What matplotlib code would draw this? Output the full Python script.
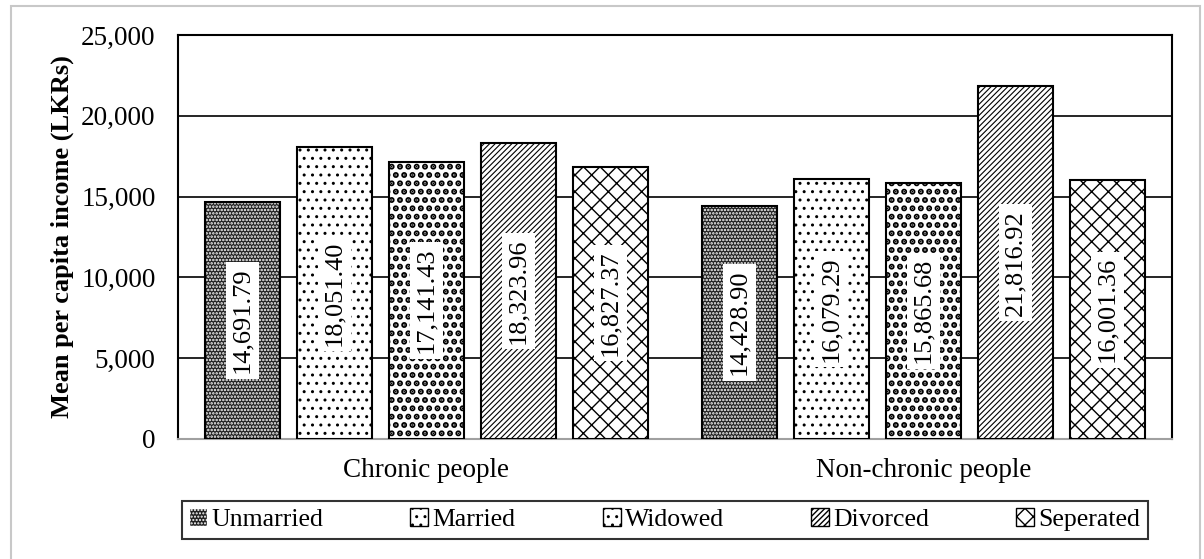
import numpy as np
import matplotlib.pyplot as plt
from matplotlib.patches import Rectangle, Patch
from matplotlib.ticker import FuncFormatter

plt.rcParams['font.family'] = ['Liberation Serif', 'DejaVu Serif']

groups = ['Chronic people', 'Non-chronic people']
statuses = ['Unmarried', 'Married', 'Widowed', 'Divorced', 'Seperated']
chronic = [14691.79, 18051.40, 17141.43, 18323.96, 16827.37]
non_chronic = [14428.90, 16079.29, 15865.68, 21816.92, 16001.36]

# fill style per status: face colour, hatch colour, hatch, hatch line width
faces = ['#202020', 'white', 'white', 'white', 'white']
hcolors = ['white', 'black', 'black', 'black', 'black']
hatches = ['.....', '..', '..', '//////', 'xx']
hwidths = [1.2, 1.0, 3.0, 0.8, 1.0]

values = np.array([chronic, non_chronic])

fig = plt.figure(figsize=(12.04, 5.59), dpi=100)
ax = fig.add_axes([0.1478, 0.2147, 0.9734 - 0.1478, 0.9374 - 0.2147])

# light grey frame round the whole figure
fig.patches.append(Rectangle((0.009, -0.05), 0.988, 1.04, transform=fig.transFigure,
                             fill=False, edgecolor='#c8c8c8', linewidth=1.5))

x = np.arange(len(groups))
width = 0.151
step = 0.185

handles = []
for i, s in enumerate(statuses):
    xs = x + (i - 2) * step
    with plt.rc_context({'hatch.linewidth': hwidths[i]}):
        ax.bar(xs, values[:, i], width, color=faces[i], edgecolor=hcolors[i],
               hatch=hatches[i], linewidth=0, zorder=3)
        handles.append(Patch(facecolor=faces[i], edgecolor=hcolors[i],
                             hatch=hatches[i], linewidth=1))
    ax.bar(xs, values[:, i], width, fill=False, edgecolor='black',
           linewidth=1.5, zorder=4)
    for xi, v in zip(xs, values[:, i]):
        ax.text(xi, v / 2, f'{v:,.2f}', rotation=90, ha='center', va='center',
                fontsize=19, zorder=5,
                bbox=dict(facecolor='white', edgecolor='none', pad=4))

ax.set_xlim(-0.5, 1.5)
ax.set_ylim(0, 25000)
ax.set_yticks(np.arange(0, 25001, 5000))
ax.yaxis.set_major_formatter(FuncFormatter(lambda v, p: f'{v:,.0f}'))
ax.set_xticks(x)
ax.set_xticklabels(groups)
ax.tick_params(length=0, labelsize=19.5)
ax.tick_params(axis='y', pad=16)
ax.tick_params(axis='x', pad=14)
ax.grid(axis='y', color='black', linewidth=1.2, zorder=0)
ax.set_axisbelow(True)
for sp in ['left', 'top', 'right']:
    ax.spines[sp].set_color('black')
    ax.spines[sp].set_linewidth(1.5)
ax.spines['bottom'].set_color('#a0a0a0')
ax.spines['bottom'].set_linewidth(1.5)

ax.set_ylabel('Mean per capita income (LKRs)', fontsize=19, fontweight='bold', labelpad=5)

leg = fig.legend(handles, statuses, loc='center', bbox_to_anchor=(0.552, 0.07),
                 ncol=5, fontsize=18.5, frameon=True, fancybox=False,
                 handlelength=0.7, handleheight=0.7, handletextpad=0.15,
                 columnspacing=3.4, borderpad=0.3)
leg.get_frame().set_edgecolor('black')
leg.get_frame().set_linewidth(1.5)

fig.savefig('out.png', dpi=100)
